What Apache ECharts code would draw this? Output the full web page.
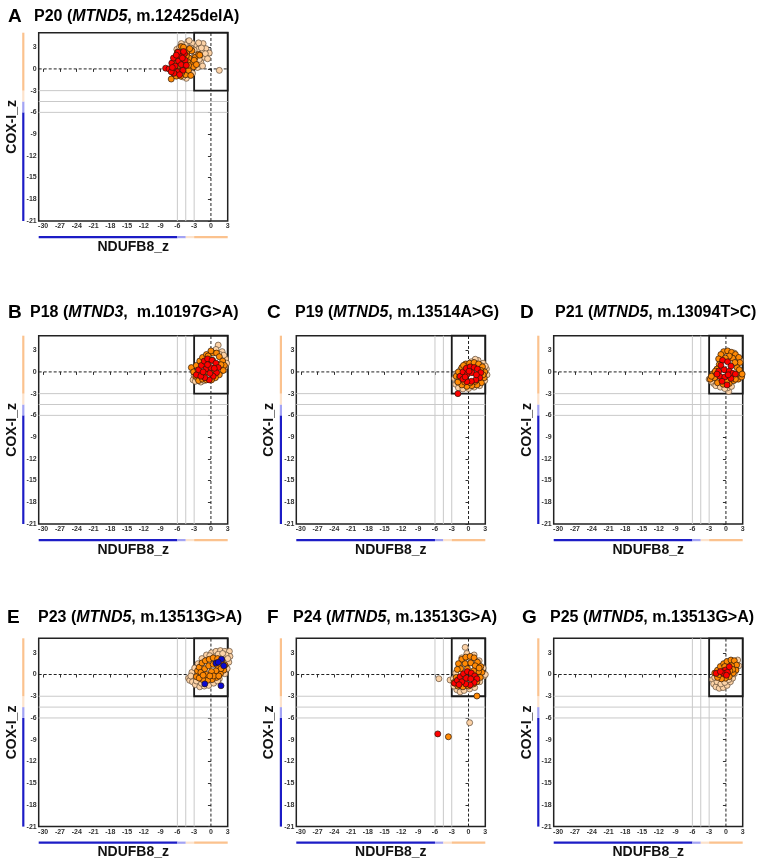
<!DOCTYPE html>
<html><head><meta charset="utf-8">
<script src="https://cdn.jsdelivr.net/npm/echarts@6/dist/echarts.min.js"></script>
<style>html,body{margin:0;padding:0;background:#fff}#c{width:760px;height:864px}</style>
</head><body><div id="c"></div>
<script>
// ---------- data ----------
const panelLetters = ['A','B','C','D','E','F','G'];
const patientIds = ['P20','P18','P19','P21','P23','P24','P25'];
const genes = ['MTND5','MTND3','MTND5','MTND5','MTND5','MTND5','MTND5'];
const variants = [', m.12425delA)', ',  m.10197G>A)', ', m.13514A>G)', ', m.13094T>C)', ', m.13513G>A)', ', m.13513G>A)', ', m.13513G>A)'];
const xTicks = [-30,-27,-24,-21,-18,-15,-12,-9,-6,-3,0,3];
const yTicks = [-21,-18,-15,-12,-9,-6,-3,0,3];
const xRange = [-30.8, 3];
const yRange = [-21, 5];
const bandEdgesX = [-30.8, -6, -4.5, -3, 3];
const bandEdgesY = [-21, -6, -4.5, -3, 5];
const greyLines = [-6, -4.5, -3];
const zeroLines = [0];
const boxX = [-3, 3];
const boxY = [-3, 5];

const A_peach = [[-4.1,3.8],[-3.3,3.5],[-2.5,3.2],[-1.4,3.5],[-0.9,2.8],[-0.3,2.2],[-1.6,2.3],[-2.3,2.7],[-3.0,2.6],[-1.2,1.6],[-2.0,1.8],[-2.6,1.2],[-1.8,0.9],[-3.2,1.6],[-3.6,2.9],[-4.6,3.3],[-2.9,0.5],[-3.5,0.2],[-2.4,0.2],[-3.9,-0.5],[-4.4,-1.3],[-3.3,-0.6],[-5.0,-1.1],[-2.1,1.3],[-1.0,2.1],[-4.2,2.4],[-5.3,3.5],[-6.1,2.7],[-3.8,1.1],[-2.7,1.9],[1.5,-0.2],[-4.8,0.7],[-6.0,-0.9],[-5.6,3.0],[-1.7,2.9],[-0.6,1.4],[-2.2,3.6],[-3.9,3.9],[-1.5,0.4]];
const A_orange = [[-7.1,-1.4],[-6.7,-0.6],[-6.2,-1.0],[-5.4,-1.0],[-4.5,-0.8],[-6.8,0.3],[-6.4,0.8],[-5.9,1.4],[-5.5,2.2],[-5.3,3.1],[-4.8,2.7],[-4.3,2.2],[-3.9,1.5],[-3.5,0.8],[-3.1,0.3],[-2.8,1.6],[-2.2,2.0],[-2.0,1.9],[-3.4,2.5],[-4.6,0.2],[-5.0,1.0],[-4.0,-0.2],[-3.6,-0.9],[-5.8,-0.3],[-6.0,2.3],[-4.9,3.0],[-4.2,1.0],[-3.0,1.2],[-2.6,0.6],[-5.7,0.5],[-6.5,-0.2],[-4.4,1.8],[-3.8,2.8],[-5.2,-0.5],[-4.0,0.5]];
const A_red = [[-8.1,0.1],[-7.5,0.0],[-7.0,0.8],[-6.7,1.5],[-6.4,0.4],[-6.0,-0.4],[-5.8,1.1],[-5.5,1.8],[-5.3,0.6],[-5.0,-0.2],[-4.7,2.1],[-4.6,1.2],[-5.9,2.3],[-6.6,-0.6],[-5.6,-0.8],[-4.4,0.5],[-6.2,1.9],[-5.1,1.5],[-7.1,-0.4],[-4.9,2.4],[-6.9,0.2]];

const B_peach = [[1.3,3.7],[2.0,2.8],[2.6,1.8],[2.8,1.2],[1.6,2.4],[-3.2,-1.1],[-2.8,-1.3],[-2.4,-0.9],[-1.8,-1.4],[-3.0,-0.5],[0.9,3.1],[2.3,2.3],[-1.2,-1.2],[0.3,-0.9],[1.8,0.1],[2.5,0.7]];
const B_orange = [[-3.5,0.6],[-3.1,0.0],[-2.7,-0.6],[-2.2,-1.2],[-1.5,-1.0],[-0.8,-1.1],[-2.6,0.9],[-2.0,1.5],[-1.5,2.0],[-0.8,2.4],[0.4,2.6],[0.0,2.9],[1.0,2.6],[1.5,2.1],[2.1,1.5],[2.4,0.9],[2.2,0.2],[1.5,-0.4],[0.8,-0.8],[0.1,-1.1],[-1.2,1.0],[-2.3,0.2],[-1.0,0.0],[0.3,1.6],[1.2,1.0],[-0.4,1.7],[-1.8,-0.3],[0.5,0.3],[1.8,1.0],[-0.5,2.2]];
const B_red = [[-2.6,-0.4],[-2.2,0.3],[-1.7,0.9],[-1.2,1.5],[-0.6,1.8],[0.2,1.6],[0.9,1.2],[1.3,0.6],[1.0,-0.1],[0.4,-0.6],[-0.3,-1.1],[-1.1,-0.8],[-1.8,-0.6],[-0.9,0.4],[0.0,0.6],[-0.2,-0.2],[-1.4,0.0],[0.6,0.5],[-0.6,1.0]];

const C_peach = [[-2.5,-0.9],[-2.3,-1.7],[-1.8,-2.2],[-1.0,-2.35],[0.0,-2.3],[1.0,-2.1],[2.0,-1.9],[2.9,-1.2],[3.3,-0.4],[3.2,0.4],[2.6,1.2],[1.7,1.6],[1.2,1.75],[0.5,1.4],[-0.5,1.0],[-1.4,0.3],[-2.1,-0.2],[2.2,0.9],[-2.0,-1.3],[3.0,0.8]];
const C_orange = [[-2.2,-0.6],[-1.8,0.0],[-1.2,0.6],[-0.5,1.1],[0.2,1.2],[1.0,1.3],[1.8,1.1],[2.5,0.7],[2.9,0.0],[2.8,-0.8],[2.3,-1.5],[1.5,-1.8],[0.6,-1.9],[-0.3,-2.0],[-1.2,-1.8],[-1.9,-1.4],[-1.6,-0.7],[0.3,-1.5],[1.9,-0.6],[2.2,0.2],[-0.7,-1.4],[1.2,-1.3],[-0.9,0.9],[2.6,-0.4]];
const C_red = [[-1.5,-0.6],[-1.0,0.0],[-0.4,0.5],[0.3,0.7],[1.0,0.6],[1.6,0.4],[2.2,-0.1],[2.0,-0.8],[1.3,-1.1],[0.5,-1.3],[-0.3,-1.35],[-1.0,-1.0],[-0.2,-0.3],[0.6,-0.1],[1.4,-0.4],[-0.6,-0.7],[0.1,0.1],[-1.9,-3.0]];

const D_peach = [[0.5,-2.7],[0.3,-2.2],[-2.2,-1.6],[-2.6,-1.3],[-1.8,-1.9],[-1.0,-2.1],[-0.2,-2.3],[1.0,-2.0],[-3.0,-1.0],[-1.5,-1.2],[1.5,2.6],[2.6,1.5]];
const D_orange = [[-0.4,2.8],[0.3,2.9],[1.0,2.7],[1.7,2.4],[2.3,2.0],[2.5,1.3],[-0.9,2.4],[-1.3,1.8],[-1.2,1.0],[-1.6,0.4],[-2.2,-0.2],[-2.8,-1.0],[-2.0,-0.8],[-1.5,-1.5],[-0.5,-1.7],[0.6,-1.6],[1.4,-1.2],[2.2,-1.0],[2.8,-0.7],[1.7,-1.0],[2.5,-0.1],[2.0,0.6],[1.2,1.9],[0.6,2.2],[-0.1,1.9],[2.4,0.3],[1.6,1.3],[-2.6,-0.6],[-1.9,0.1],[2.9,-0.3],[0.1,-1.3]];
const D_red = [[-0.6,1.6],[0.3,1.4],[0.9,0.8],[-0.9,0.9],[-1.3,0.1],[-0.3,0.3],[0.6,0.1],[1.2,-0.2],[-1.1,-0.6],[-0.2,-0.7],[0.9,-0.9],[-0.7,-1.3],[0.2,-1.8],[1.7,-0.3],[-1.6,-0.3],[0.4,-0.4]];

const E_peach = [[-4.0,-0.5],[-3.8,-0.8],[-3.3,-1.0],[-3.0,-0.2],[-2.8,-1.4],[-2.0,-1.7],[-1.2,-1.6],[-0.4,-1.5],[0.5,-1.2],[-3.4,0.3],[-2.9,0.9],[-2.3,1.5],[-1.6,2.2],[-0.8,2.7],[0.1,3.0],[0.9,3.2],[1.7,3.3],[2.5,3.2],[3.3,3.2],[3.4,2.5],[3.2,1.7],[2.9,0.8],[2.5,0.1],[1.5,-0.6],[2.7,2.7],[1.3,2.8],[-1.7,-1.2],[3.0,2.2],[-0.2,2.6],[2.1,2.9],[-2.6,-0.9],[-3.6,-0.2],[1.2,-0.9]];
const E_orange = [[-2.6,-0.3],[-2.4,0.5],[-2.1,1.0],[-1.6,1.6],[-1.0,1.9],[-0.3,2.1],[0.4,2.3],[1.2,2.2],[2.0,1.9],[2.5,1.3],[2.3,0.6],[1.7,0.1],[1.0,-0.4],[0.2,-0.7],[-0.6,-0.8],[-1.5,-0.7],[-2.1,-0.5],[-1.8,0.3],[-1.1,0.8],[-0.4,1.2],[0.4,1.4],[1.2,1.2],[1.8,0.8],[0.9,0.5],[0.1,0.4],[-0.8,0.0],[-1.4,-0.1],[0.5,-0.2],[-0.2,-0.2],[1.4,-0.2]];
const E_blue = [[1.9,2.1],[2.3,1.2],[0.9,1.55],[-1.1,-1.3],[1.8,-1.55],[1.3,1.7]];

const F_peach = [[-0.6,3.75],[-5.3,-0.58],[-3.3,-0.76],[0.2,-6.65],[-2.1,-2.1],[-1.5,-2.4],[-2.6,-1.6],[-0.8,-2.2],[0.2,-2.0],[1.1,-1.8],[2.0,-1.0],[2.8,-0.2],[-0.1,2.5],[0.4,2.1],[1.0,2.7],[-0.9,1.9],[-1.6,1.0],[-2.3,0.2],[-2.7,-0.6],[-1.2,2.3],[1.9,1.9],[2.6,0.9],[3.0,0.0],[-0.3,2.9]];
const F_orange = [[-1.2,2.1],[-0.5,2.4],[0.3,2.5],[1.0,2.3],[1.6,1.7],[2.2,1.1],[2.4,0.3],[2.1,-0.4],[1.5,-1.0],[1.5,-2.97],[-3.6,-8.6],[-1.8,1.5],[-1.4,0.8],[-0.6,1.5],[0.4,1.6],[1.2,1.2],[1.8,0.4],[0.9,0.5],[-0.2,0.8],[-2.2,-0.4],[-2.6,-1.1],[-1.9,-1.6],[-1.0,-1.7],[0.0,-1.6],[0.9,-1.3],[1.9,0.9],[-2.0,0.7]];
const F_red = [[-2.5,-1.2],[-2.0,-0.8],[-1.5,-0.3],[-0.9,0.1],[-0.2,0.4],[0.5,0.2],[1.1,-0.2],[1.5,-0.6],[1.0,-1.1],[0.3,-1.45],[-0.5,-1.3],[-1.2,-1.0],[-0.4,-0.5],[0.4,-0.6],[-1.7,-1.4],[-5.5,-8.2]];

const G_peach = [[-2.4,-0.7],[-2.2,-1.3],[-1.8,-1.7],[-1.2,-1.9],[-0.5,-1.8],[0.2,-1.5],[0.8,-1.0],[1.2,-0.5],[1.5,0.1],[-1.6,-1.0],[-0.9,-1.3],[-0.2,-1.1],[0.5,-0.7],[1.9,1.7],[2.3,1.2],[2.1,2.0],[-2.0,-0.4],[1.7,0.6]];
const G_orange = [[-2.0,0.2],[-1.5,0.6],[-1.0,1.1],[-0.4,1.5],[0.2,1.8],[0.9,2.0],[1.5,1.9],[1.9,1.3],[1.8,0.6],[1.3,0.2],[0.6,-0.3],[-0.1,-0.5],[-0.8,-0.6],[-1.5,-0.4],[-0.6,0.4],[0.3,0.9],[1.0,1.2],[-1.2,0.0],[0.0,0.2],[1.2,0.7],[-0.2,1.1],[0.7,0.5]];
const G_red = [[-1.75,0.16],[-0.1,0.62],[0.6,1.07],[-0.5,0.2],[0.3,0.3],[-1.0,0.4],[0.1,-0.1]];

const panelPoints = [
  {peach:A_peach, orange:A_orange, red:A_red},
  {peach:B_peach, orange:B_orange, red:B_red},
  {peach:C_peach, orange:C_orange, red:C_red},
  {peach:D_peach, orange:D_orange, red:D_red},
  {peach:E_peach, orange:E_orange, blue:E_blue},
  {peach:F_peach, orange:F_orange, red:F_red},
  {peach:G_peach, orange:G_orange, red:G_red}
];

// ---------- layout & styles ----------
const FONT = 'Arial, "Liberation Sans", sans-serif';
const colLeft = [38.7, 296.3, 553.7];
const rowTop = [32.7, 335.7, 638.3];
const gridW = 189, gridH = 188.3;
const panelPos = [[0,0],[1,0],[1,1],[1,2],[2,0],[2,1],[2,2]];
const titleY = [12, 308, 613];
const letterX = [3, 3, 262, 515, 2, 262, 517];
const textX = [29, 25, 290, 550, 33, 288, 545];
const bandColors = ['#1c1cc6', '#a3a3f3', '#fde3cc', '#fbc28e'];
const pointColors = {peach:'#fcd2a6', orange:'#ff8a05', red:'#ff0000', blue:'#0a0ad2'};
const pointOrder = ['peach','orange','red','blue'];

const grids = [], xAxes = [], yAxes = [], series = [], titles = [];

function crossLines(style) {
  return (p, api) => {
    const v = api.value(0);
    const a = api.coord([v, yRange[0]]), b = api.coord([v, yRange[1]]);
    const c = api.coord([xRange[0], v]), d = api.coord([xRange[1], v]);
    return {type: 'group', children: [
      {type: 'line', shape: {x1: a[0], y1: a[1], x2: b[0], y2: b[1]}, style: style},
      {type: 'line', shape: {x1: c[0], y1: c[1], x2: d[0], y2: d[1]}, style: style}]};
  };
}

panelLetters.forEach((L, i) => {
  const [r, c] = panelPos[i];
  grids.push({left: colLeft[c], top: rowTop[r], width: gridW, height: gridH,
    show: true, borderColor: '#222', borderWidth: 1.5, backgroundColor: 'transparent'});
  const tickLabel = {fontSize: 7, fontWeight: 'bold', color: '#333', fontFamily: FONT, margin: 2};
  xAxes.push({gridIndex: i, type: 'value', min: xRange[0], max: xRange[1],
    axisLine: {show: false}, splitLine: {show: false},
    axisTick: {show: true, length: 3, customValues: xTicks, lineStyle: {color: '#333', width: 1}},
    axisLabel: Object.assign({customValues: xTicks}, tickLabel),
    name: 'NDUFB8_z', nameLocation: 'middle', nameGap: 19,
    nameTextStyle: {fontSize: 14, fontWeight: 'bold', color: '#111', fontFamily: FONT}});
  yAxes.push({gridIndex: i, type: 'value', min: yRange[0], max: yRange[1],
    axisLine: {show: false}, splitLine: {show: false},
    axisTick: {show: true, length: 3, customValues: yTicks, lineStyle: {color: '#333', width: 1}},
    axisLabel: Object.assign({customValues: yTicks}, tickLabel),
    name: 'COX-I_z', nameLocation: 'middle', nameGap: 20,
    nameTextStyle: {fontSize: 14, fontWeight: 'bold', color: '#111', fontFamily: FONT}});

  titles.push({text: L, left: letterX[i], top: titleY[r] - 11,
    textStyle: {fontSize: 19, fontWeight: 'bold', color: '#000', fontFamily: FONT, lineHeight: 22}});
  titles.push({text: '{n|' + patientIds[i] + ' (}{g|' + genes[i] + '}{n|' + variants[i] + '}',
    left: textX[i], top: titleY[r] - 10,
    textStyle: {rich: {
      n: {fontSize: 16, fontWeight: 'bold', color: '#000', fontFamily: FONT, lineHeight: 20},
      g: {fontSize: 16, fontWeight: 'bold', fontStyle: 'italic', color: '#000', fontFamily: FONT, lineHeight: 20}}}});

  // grey threshold lines
  series.push({type: 'custom', xAxisIndex: i, yAxisIndex: i, clip: false, silent: true, z: 1,
    data: greyLines.map(v => [v, v]),
    renderItem: crossLines({stroke: '#c9c9c9', lineWidth: 1})});
  // dashed zero lines
  series.push({type: 'custom', xAxisIndex: i, yAxisIndex: i, clip: false, silent: true, z: 1,
    data: zeroLines.map(v => [v, v]),
    renderItem: crossLines({stroke: '#222', lineWidth: 1, lineDash: [3, 2]})});

  // black box around the normal region
  series.push({type: 'custom', xAxisIndex: i, yAxisIndex: i, clip: false, silent: true, z: 2,
    data: [[boxX[0], boxY[0], boxX[1], boxY[1]]], encode: {x: [0, 2], y: [1, 3]},
    renderItem: (p, api) => {
      const a = api.coord([api.value(0), api.value(3)]), b = api.coord([api.value(2), api.value(1)]);
      return {type: 'rect', shape: {x: a[0], y: a[1], width: b[0] - a[0], height: b[1] - a[1]},
        style: {fill: null, stroke: '#1a1a1a', lineWidth: 1.8}};
    }});

  // coloured bands along axes
  const xb = [], yb = [];
  for (let k = 0; k < 4; k++) {
    xb.push([bandEdgesX[k], bandEdgesX[k + 1], k]);
    yb.push([bandEdgesY[k], bandEdgesY[k + 1], k]);
  }
  series.push({type: 'custom', xAxisIndex: i, yAxisIndex: i, clip: false, silent: true, z: 1,
    data: xb, encode: {x: [0, 1]},
    renderItem: (p, api) => {
      const a = api.coord([api.value(0), yRange[0]]), b = api.coord([api.value(1), yRange[0]]);
      return {type: 'rect', shape: {x: a[0], y: a[1] + 15, width: b[0] - a[0], height: 2.2},
        style: {fill: bandColors[api.value(2)]}};
    }});
  series.push({type: 'custom', xAxisIndex: i, yAxisIndex: i, clip: false, silent: true, z: 1,
    data: yb, encode: {y: [0, 1]},
    renderItem: (p, api) => {
      const a = api.coord([xRange[0], api.value(0)]), b = api.coord([xRange[0], api.value(1)]);
      return {type: 'rect', shape: {x: a[0] - 16.5, y: b[1], width: 2.2, height: a[1] - b[1]},
        style: {fill: bandColors[api.value(2)]}};
    }});

  pointOrder.forEach((key, j) => {
    const pts = panelPoints[i][key];
    if (!pts) return;
    series.push({type: 'scatter', xAxisIndex: i, yAxisIndex: i, data: pts, z: 3 + j,
      symbolSize: 6, clip: false, silent: true,
      itemStyle: {color: pointColors[key], borderColor: key === 'peach' ? '#5e4a38' : '#2a1608',
        borderWidth: 0.7, opacity: 1}});
  });
});

const chart = echarts.init(document.getElementById('c'), null, {renderer: 'canvas'});
chart.setOption({animation: false, backgroundColor: '#fff', title: titles,
  grid: grids, xAxis: xAxes, yAxis: yAxes, series: series});
</script></body></html>
